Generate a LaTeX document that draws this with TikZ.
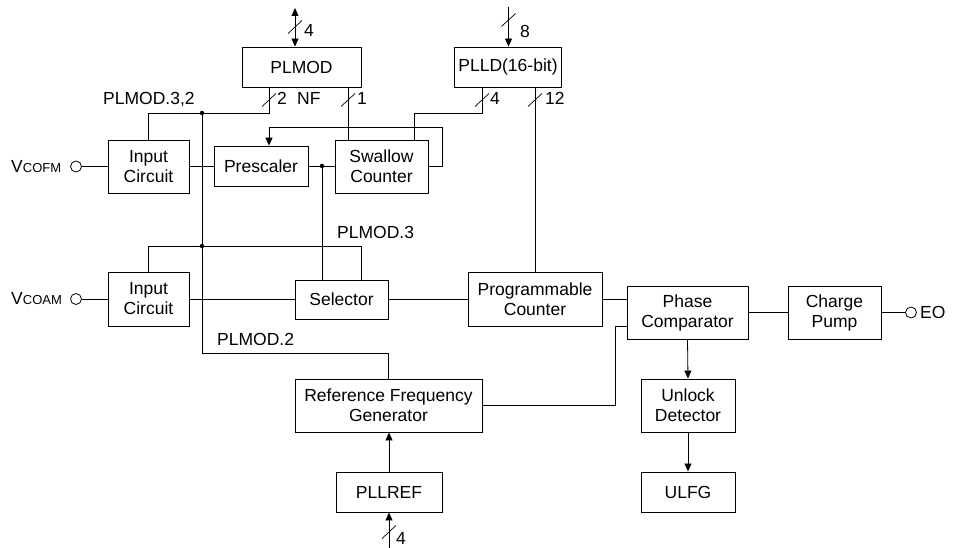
\documentclass[tikz,border=0pt]{standalone}
\usepackage{fontspec}
\setmainfont{Liberation Sans}
\usetikzlibrary{arrows.meta}
\begin{document}
\begin{tikzpicture}[x=1pt,y=-1pt,
  txt/.style={font=\fontsize{17.5}{20}\selectfont},
  box/.style={draw, line width=0.9pt, align=center, inner sep=0pt, txt},
  wire/.style={line width=0.8pt},
  arr/.style={wire, -{Triangle[length=8pt,width=7pt]}},
  biarr/.style={wire, {Triangle[length=8pt,width=7pt]}-{Triangle[length=8pt,width=7pt]}},
  lbl/.style={inner sep=0pt, anchor=base west, txt},
  jdot/.style={circle, fill, inner sep=0pt, minimum size=4.5pt},
  port/.style={circle, draw, line width=0.8pt, inner sep=0pt, minimum size=11pt, fill=white},
  buscut/.pic={\draw[line width=0.7pt] (-7,6.5) -- (7,-6.5);}]
\useasboundingbox (0,0) rectangle (959,548);

% boxes
\node[box, minimum width=119pt, minimum height=40pt] (plmod) at (301.5,67) {PLMOD};
\node[box, minimum width=107pt, minimum height=40pt] (plld) at (508,67) {PLLD(16-bit)};
\node[box, minimum width=81pt, minimum height=53pt] (infm) at (148.5,166.5) {Input\\Circuit};
\node[box, minimum width=94pt, minimum height=40pt] (presc) at (261,166) {Prescaler};
\node[box, minimum width=93pt, minimum height=53pt] (swal) at (381.5,166.5) {Swallow\\Counter};
\node[box, minimum width=81pt, minimum height=54pt] (inam) at (148.5,299) {Input\\Circuit};
\node[box, minimum width=93pt, minimum height=39pt] (sel) at (341.5,299.5) {Selector};
\node[box, minimum width=134pt, minimum height=54pt] (pc) at (535,299) {Programmable\\Counter};
\node[box, minimum width=121pt, minimum height=53pt] (phase) at (687.5,312.5) {Phase\\Comparator};
\node[box, minimum width=93pt, minimum height=53pt] (cp) at (834.5,312.5) {Charge\\Pump};
\node[box, minimum width=187pt, minimum height=53pt] (refg) at (388.5,405.5) {Reference Frequency\\Generator};
\node[box, minimum width=94pt, minimum height=53pt] (unl) at (688,405.5) {Unlock\\Detector};
\node[box, minimum width=106pt, minimum height=40pt] (pllref) at (389,492) {PLLREF};
\node[box, minimum width=94pt, minimum height=40pt] (ulfg) at (688,492) {ULFG};

% ports and junctions
\node[port] (pfm) at (76,166.5) {};
\node[port] (pam) at (76,299) {};
\node[port] (peo) at (911,312.5) {};
\node[jdot] (j1) at (202,113) {};
\node[jdot] (j2) at (202,246) {};
\node[jdot] (j3) at (322,166) {};

% helper coordinates
\coordinate (t1) at (295,8);
\coordinate (t2) at (508.5,7);
\coordinate (t3) at (389,548);
\coordinate (b1) at (269,113);
\coordinate (b2) at (202,353);
\coordinate (b3) at (361,246);
\coordinate (b4) at (348,113);
\coordinate (b5) at (482,113);
\coordinate (b6) at (414,113);
\coordinate (f1) at (442,127);
\coordinate (r2) at (615,326);

% top buses
\draw[biarr] (t1) -- (t1 |- plmod.north);
\draw[arr] (t2) -- (t2 |- plld.north);

% PLMOD outputs
\draw[wire] (plmod.south -| b1) -- (b1) -| (infm.north);
\draw[wire] (j1) -- (b2) -| (refg.north);
\draw[wire] (plmod.south -| b4) -- (swal.north -| b4);

% PLLD outputs
\draw[wire] (plld.south -| b5) -- (b5) -- (b6) -- (swal.north -| b6);
\draw[wire] (plld.south -| pc.north) -- (pc.north);

% FM path
\draw[wire] (pfm.east) -- (pfm.east -| infm.west);
\draw[wire] (infm.east |- presc.west) -- (presc.west);
\draw[wire] (presc.east) -- (presc.east -| swal.west);
\draw[wire] (j3) -- (j3 |- sel.north);
\draw[arr] (swal.east) -| (f1) -| (presc.north -| b1);

% AM path
\draw[wire] (inam.north) |- (b3) -- (b3 |- sel.north);
\draw[wire] (pam.east) -- (pam.east -| inam.west);
\draw[wire] (inam.east) -- (inam.east -| sel.west);
\draw[wire] (sel.east) -- (sel.east -| pc.west);
\draw[wire] (pc.east) -- (pc.east -| phase.west);
\draw[wire] (refg.east) -| (r2) -- (r2 -| phase.west);
\draw[wire] (phase.east) -- (cp.west);
\draw[wire] (cp.east) -- (peo.west);
\draw[arr] (phase.south) -- (unl.north);
\draw[arr] (unl.south) -- (ulfg.north);
\draw[arr] (pllref.north) -- (pllref.north |- refg.south);
\draw[arr] (t3) -- (pllref.south);

% bus slashes
\pic at (295,27) {buscut};
\pic at (508.5,20) {buscut};
\pic at (269,100) {buscut};
\pic at (348,100) {buscut};
\pic at (482,100) {buscut};
\pic at (535,100) {buscut};
\pic at (389,532) {buscut};

% labels
\node[lbl] (l4a) at (304,37) {4};
\node[lbl] (l8) at (520,37.5) {8};
\node[lbl] (l2) at (277,105) {2};
\node[lbl] (lnf) at (297,105) {NF};
\node[lbl] (l1) at (357,105) {1};
\node[lbl] (l4b) at (490,105) {4};
\node[lbl] (l12) at (545,105) {12};
\node[lbl] (l4c) at (396,544) {4};
\node[lbl] (lpm32) at (103,105) {PLMOD.3,2};
\node[lbl] (lpm3) at (337,239) {PLMOD.3};
\node[lbl] (lpm2) at (217,345) {PLMOD.2};
\node[lbl] (leo) at (920,318.5) {EO};
\node[lbl] (lvfm) at (11,172.5) {V{\fontsize{13}{15}\selectfont COFM}};
\node[lbl] (lvam) at (11,305) {V{\fontsize{13}{15}\selectfont COAM}};
\end{tikzpicture}
\end{document}
